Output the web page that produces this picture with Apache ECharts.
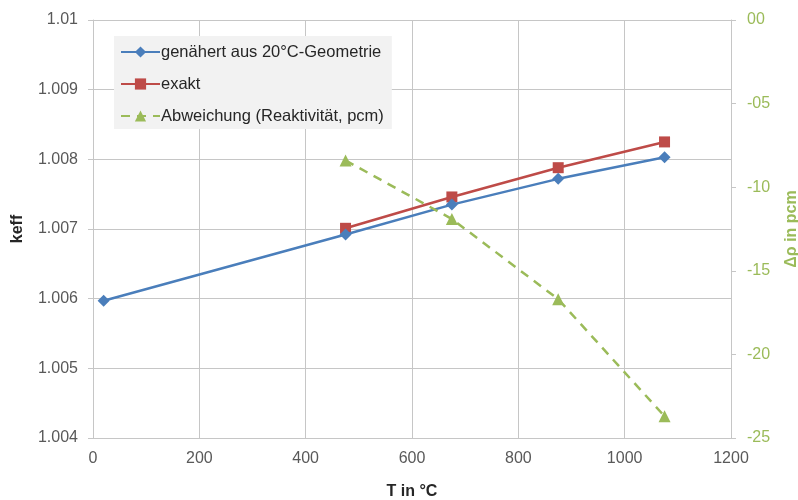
<!DOCTYPE html>
<html>
<head>
<meta charset="utf-8">
<script src="https://cdn.jsdelivr.net/npm/echarts@6/dist/echarts.min.js"></script>
<style>
  html, body { margin: 0; padding: 0; background: #fff; }
  #chart { width: 798px; height: 500px; }
</style>
</head>
<body>
<div id="chart"></div>
<script>
// Temperatures (°C)
const tempApprox = [20, 475, 675, 875, 1075];
const tempExact = [475, 675, 875, 1075];

// k_eff values
const keffApprox = [1.00597, 1.00692, 1.00735, 1.00772, 1.00803];
const keffExact = [1.00701, 1.00746, 1.00788, 1.00825];

// Reactivity deviation (pcm)
const deviation = [-8.4, -11.9, -16.7, -23.7];

const seriesNames = ['genähert aus 20°C-Geometrie', 'exakt', 'Abweichung (Reaktivität, pcm)'];

const pairs = (xs, ys) => xs.map((x, i) => [x, ys[i]]);

const FONT = 'Liberation Sans, Arial, sans-serif';
const GRID_COLOR = '#c6c6c6';
const LABEL_COLOR = '#595959';
const GREEN = '#9bbb59';

const chart = echarts.init(document.getElementById('chart'), null, { renderer: 'canvas' });

chart.setOption({
  animation: false,
  backgroundColor: '#ffffff',
  textStyle: { fontFamily: FONT },
  grid: { left: 93, right: 67, top: 20, bottom: 62, outerBoundsMode: 'none', containLabel: false },
  legend: {
    orient: 'vertical',
    left: 114,
    top: 36,
    padding: [7, 8, 4, 6],
    itemGap: 14,
    itemWidth: 39,
    itemHeight: 14,
    backgroundColor: '#f2f2f2',
    textStyle: { fontFamily: FONT, fontSize: 16.5, lineHeight: 18, color: '#262626', padding: [0, 0, 0, -4] },
    data: seriesNames
  },
  xAxis: {
    type: 'value',
    min: 0,
    max: 1200,
    interval: 200,
    name: 'T in °C',
    nameLocation: 'middle',
    nameGap: 46,
    nameTextStyle: { fontFamily: FONT, fontSize: 16, fontWeight: 'bold', color: '#262626' },
    axisLine: { show: true, lineStyle: { color: GRID_COLOR, width: 1 } },
    axisTick: { show: true, inside: false, length: 5, lineStyle: { color: GRID_COLOR } },
    axisLabel: { fontFamily: FONT, fontSize: 16, color: LABEL_COLOR, margin: 13, formatter: v => String(v) },
    splitLine: { show: true, lineStyle: { color: GRID_COLOR, width: 1 } }
  },
  yAxis: [
    {
      type: 'value',
      position: 'left',
      min: 1.004,
      max: 1.01,
      interval: 0.001,
      name: 'keff',
      nameLocation: 'middle',
      nameRotate: 90,
      nameGap: 67,
      nameTextStyle: { fontFamily: FONT, fontSize: 16, fontWeight: 'bold', color: '#262626' },
      axisLine: { show: true, lineStyle: { color: GRID_COLOR, width: 1 } },
      axisTick: { show: true, length: 5, lineStyle: { color: GRID_COLOR } },
      axisLabel: {
        fontFamily: FONT, fontSize: 16, color: LABEL_COLOR, margin: 15,
        formatter: v => String(parseFloat(v.toFixed(3)))
      },
      splitLine: { show: true, lineStyle: { color: GRID_COLOR, width: 1 } }
    },
    {
      type: 'value',
      position: 'right',
      min: -25,
      max: 0,
      interval: 5,
      name: 'Δρ in pcm',
      nameLocation: 'middle',
      nameRotate: 90,
      nameGap: 53,
      nameTextStyle: { fontFamily: FONT, fontSize: 16, fontWeight: 'bold', color: GREEN },
      axisLine: { show: true, lineStyle: { color: GRID_COLOR, width: 1 } },
      axisTick: { show: true, length: 5, lineStyle: { color: GRID_COLOR } },
      axisLabel: {
        fontFamily: FONT, fontSize: 16, color: GREEN, margin: 16,
        formatter: v => (v < 0 ? '-' : '') + String(Math.abs(Math.round(v))).padStart(2, '0')
      },
      splitLine: { show: false }
    }
  ],
  series: [
    {
      name: seriesNames[0],
      type: 'line',
      yAxisIndex: 0,
      data: pairs(tempApprox, keffApprox),
      symbol: 'diamond',
      symbolSize: 12,
      lineStyle: { color: '#4a7ebb', width: 2.5 },
      itemStyle: { color: '#4a7ebb' },
      z: 3
    },
    {
      name: seriesNames[1],
      type: 'line',
      yAxisIndex: 0,
      data: pairs(tempExact, keffExact),
      symbol: 'rect',
      symbolSize: 11,
      lineStyle: { color: '#be4b48', width: 2.5 },
      itemStyle: { color: '#be4b48' },
      z: 2
    },
    {
      name: seriesNames[2],
      type: 'line',
      yAxisIndex: 1,
      data: pairs(tempExact, deviation),
      symbol: 'triangle',
      symbolSize: 12,
      lineStyle: { color: GREEN, width: 2.5, type: [9, 7] },
      itemStyle: { color: GREEN },
      z: 4
    }
  ]
});
</script>
</body>
</html>
